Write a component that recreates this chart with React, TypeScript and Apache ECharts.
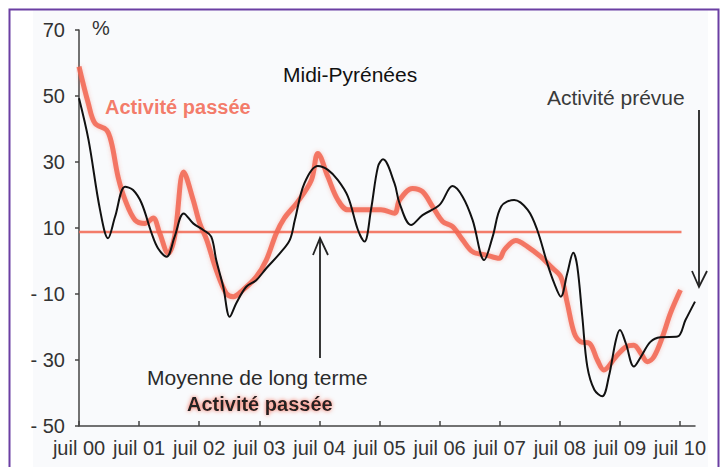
import React, { useEffect, useRef } from "react";
import * as echarts from "echarts";

// Months since July 2000
const pastMonths = [0, 1.85, 3.2, 5.5, 6.5, 7.8, 9.2, 11.2, 13.2, 14.8, 16.1, 17.8, 19.1, 20.9, 22.8, 24.1, 25.5, 27.4, 29.4, 30.8, 32.7, 35.4, 37.4, 39.4, 41, 43.7, 46.4, 47.7, 49.7, 51.7, 53.7, 57, 60.3, 63, 64, 66.6, 68.6, 70.6, 72.6, 74.6, 76.6, 78.6, 81.3, 83.9, 84.9, 87.2, 89.6, 92.2, 94.2, 96.2, 97.5, 98.9, 100.2, 101.9, 103.5, 104.8, 107.2, 109.2, 110.8, 112.2, 113.5, 114.8, 116.5, 118.1, 120.1];
const pastValues = [58.9, 47.8, 41.7, 39.7, 35.7, 25.5, 18.5, 12.4, 11.4, 13, 8.5, 2.3, 7.4, 27, 18.5, 11.4, 6.4, -2.7, -9.8, -10.8, -8.8, -4.8, 0.3, 8.4, 13, 18, 24.5, 32.6, 25.5, 18.5, 15.5, 15.5, 15.5, 14.5, 18.5, 22, 21, 16.5, 12, 10.4, 6.4, 2.8, 1.8, 0.8, 3.3, 6.2, 4.3, 1.3, -1.7, -4.8, -12.8, -21.9, -24.5, -24.9, -30, -33, -29, -26, -25.5, -28, -30.5, -29, -23, -15.8, -8.8];

const plannedMonths = [0, 1.9, 4.2, 5.8, 7.2, 9.2, 10.8, 12.5, 14.5, 15.8, 17.5, 19.1, 20.9, 22.8, 24.8, 26.4, 27.4, 28.8, 30.1, 31.4, 33.4, 35.4, 37.4, 40.1, 42.1, 43.1, 45, 47.7, 49.7, 51.7, 53.7, 55.7, 57, 58.3, 59.7, 60.7, 63, 64, 66.3, 68.6, 72, 74.6, 76.6, 78.6, 80.9, 82.6, 84.3, 86.9, 89.6, 91.5, 93.5, 94.9, 96.2, 97.5, 98.7, 99.5, 100.5, 101.5, 102.9, 104.5, 105.8, 107.2, 108, 109.2, 110.8, 112.2, 114.1, 116.1, 119.5, 121.1, 123];
const plannedValues = [49.3, 36.7, 15.5, 6.9, 13.4, 22.5, 21.5, 17.5, 8.4, 3.8, 1.3, 7.4, 14.4, 11.4, 9.4, 7.4, 0.3, -7.8, -16.9, -12.8, -7.8, -5.8, -2.2, 2.3, 6.4, 12.4, 23.5, 28.8, 27.6, 24.5, 19.5, 9.4, 5.9, 15.5, 28.6, 30.8, 23.5, 17.5, 10.9, 13.9, 17, 22.7, 19.5, 12.4, 0.3, 7.4, 16.5, 18.5, 15.5, 9.4, -0.7, -6.8, -10.8, -3.7, 2.5, -1.7, -16.9, -32, -39, -41, -35, -24, -20.9, -25, -32, -29, -24.5, -23.1, -22.9, -17.9, -12.3];

const longTermMean = 8.8;
const meanSpan = [0, 120.3];

const tickMonths = [0, 12, 24, 36, 48, 60, 72, 84, 96, 108, 120];
const tickLabels = ["juil 00", "juil 01", "juil 02", "juil 03", "juil 04", "juil 05", "juil 06", "juil 07", "juil 08", "juil 09", "juil 10"];

const AXISFONT = "'Liberation Sans Narrow', 'Liberation Sans', Arial, sans-serif";
const SANS = "'Liberation Sans', Arial, sans-serif";
const ORANGE = "#f26550";

export default function App() {
  const ref = useRef<HTMLDivElement>(null);
  useEffect(() => {
    const chart = echarts.init(ref.current!, null, { renderer: "svg" });
    const zip = (xs: number[], ys: number[]) => xs.map((x, i) => [x, ys[i]]);
    chart.setOption({
      animation: false,
      backgroundColor: "#ffffff",
      grid: { left: 79, right: 25, top: 30, bottom: 41, containLabel: false },
      xAxis: {
        type: "value",
        min: 0,
        max: 123,
        splitLine: { show: false },
        axisLine: { onZero: false, lineStyle: { color: "#444", width: 1.5 } },
        axisTick: { inside: true, length: 5, customValues: tickMonths, lineStyle: { color: "#444", width: 1.5 } },
        axisLabel: {
          customValues: tickMonths,
          formatter: (v: number) => tickLabels[tickMonths.indexOf(v)] ?? "",
          color: "#333",
          fontFamily: AXISFONT,
          fontSize: 20,
          margin: 12,
        },
      },
      yAxis: {
        type: "value",
        min: -50,
        max: 70,
        interval: 20,
        splitLine: { show: false },
        axisLine: { show: true, lineStyle: { color: "#444", width: 1.5 } },
        axisTick: { show: true, length: 4, lineStyle: { color: "#444", width: 1.5 } },
        axisLabel: {
          formatter: (v: number) => (v < 0 ? "- " + Math.abs(v) : String(v)),
          color: "#333",
          fontFamily: AXISFONT,
          fontSize: 20,
          margin: 14,
        },
      },
      graphic: [
        { type: "rect", z: -10, shape: { x: 33, y: 10, width: 675, height: 470 }, style: { fill: "#f9fafc" } },
        { type: "rect", z: -9, shape: { x: 9.5, y: 9.5, width: 709, height: 480 }, style: { fill: "none", stroke: "#6b3fa3", lineWidth: 2 } },
        { type: "text", x: 92, y: 28, style: { text: "%", font: `20px ${SANS}`, fill: "#333", verticalAlign: "middle" } },
        { type: "text", x: 283, y: 74, style: { text: "Midi-Pyrénées", font: `21px ${SANS}`, fill: "#111", verticalAlign: "middle" } },
        { type: "text", x: 105, y: 107, style: { text: "Activité passée", font: `bold 20px ${SANS}`, fill: ORANGE, verticalAlign: "middle", opacity: 0.85 } },
        { type: "text", x: 547, y: 97, style: { text: "Activité prévue", font: `21px ${SANS}`, fill: "#3a3a3a", verticalAlign: "middle" } },
        { type: "text", x: 147, y: 377, style: { text: "Moyenne de long terme", font: `21px ${SANS}`, fill: "#2a2a2a", verticalAlign: "middle" } },
        { type: "text", x: 187, y: 404, style: { text: "Activité passée", font: `bold 20px ${SANS}`, fill: "#222", verticalAlign: "middle", textShadowColor: ORANGE, textShadowBlur: 4 } },
        { type: "line", shape: { x1: 320, y1: 358, x2: 320, y2: 238 }, style: { stroke: "#222", lineWidth: 1.8 } },
        { type: "polyline", shape: { points: [[313, 255], [320, 238], [328, 255]] }, style: { stroke: "#222", lineWidth: 1.8, fill: "none" } },
        { type: "line", shape: { x1: 699, y1: 110, x2: 699, y2: 287 }, style: { stroke: "#222", lineWidth: 1.8 } },
        { type: "polyline", shape: { points: [[692, 271], [699, 287], [707, 271]] }, style: { stroke: "#222", lineWidth: 1.8, fill: "none" } },
      ],
      series: [
        {
          type: "line",
          name: "Moyenne de long terme",
          data: meanSpan.map((m) => [m, longTermMean]),
          symbol: "none",
          lineStyle: { color: ORANGE, width: 2.5, opacity: 0.85 },
          z: 1,
        },
        {
          type: "line",
          name: "Activité passée",
          data: zip(pastMonths, pastValues),
          symbol: "none",
          smooth: 0.35,
          lineStyle: { color: ORANGE, width: 5, opacity: 0.85, shadowColor: "rgba(242,101,80,0.4)", shadowBlur: 4 },
          z: 2,
        },
        {
          type: "line",
          name: "Activité prévue",
          data: zip(plannedMonths, plannedValues),
          symbol: "none",
          smooth: 0.35,
          lineStyle: { color: "#111", width: 2 },
          z: 3,
        },
      ],
    });
    return () => chart.dispose();
  }, []);
  return <div ref={ref} style={{ position: "fixed", left: 0, top: 0, width: 720, height: 467 }} />;
}
